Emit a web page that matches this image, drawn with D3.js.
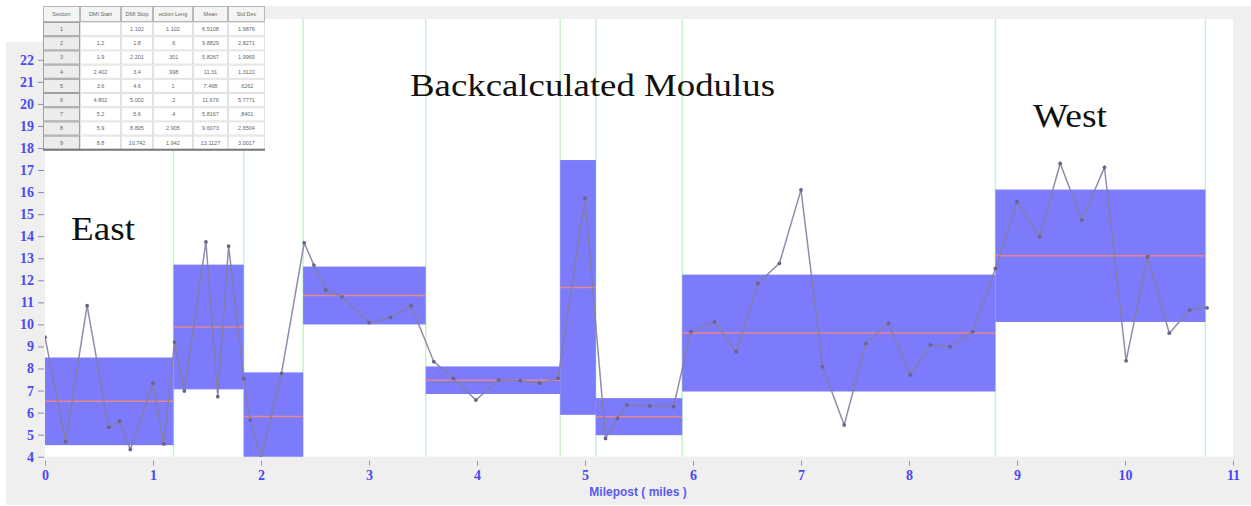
<!DOCTYPE html>
<meta charset="utf-8">
<head>
	<script src="https://cdn.jsdelivr.net/npm/d3@7"></script>
	<style>
		body { margin: 0; background: #fff; }
		.axis text { font-family: "Liberation Serif", "Times New Roman", serif; font-weight: bold; fill: #4a4aee; }
		.note { font-family: "Liberation Serif", "Times New Roman", serif; fill: #111; }
		.tbl text { font-family: "Liberation Sans", Arial, sans-serif; font-size: 5.5px; fill: #666; text-anchor: middle; }
	</style>
</head>
<body>
	<div id="chart"></div>
</body>
<script>
	// sections (milepost bounds, mean and std dev from the table)
	var secStart = [0, 1.19, 1.84, 2.39, 3.525, 4.77, 5.1, 5.9, 8.8];
	var secStop  = [1.19, 1.84, 2.39, 3.525, 4.77, 5.1, 5.9, 8.8, 10.745];
	var secMean  = [6.5108, 9.8829, 5.8267, 11.31, 7.468, 11.676, 5.8167, 9.6073, 13.1127];
	var secStd   = [1.9876, 2.8271, 1.9969, 1.3122, 0.6262, 5.7771, 0.8401, 2.6504, 3.0017];

	// backcalculated modulus along the road
	var pointMiles = [0, 0.19, 0.39, 0.59, 0.69, 0.79, 1.0, 1.1, 1.2, 1.29, 1.49, 1.6, 1.7, 1.84, 1.9, 2.0,
		2.19, 2.4, 2.49, 2.6, 2.75, 3.0, 3.2, 3.39, 3.6, 3.78, 3.99, 4.2, 4.4, 4.58, 4.75, 5.0, 5.19, 5.3,
		5.39, 5.6, 5.82, 5.98, 6.2, 6.4, 6.6, 6.8, 7.0, 7.2, 7.4, 7.6, 7.81, 8.01, 8.2, 8.38, 8.59, 8.8,
		9.0, 9.21, 9.4, 9.6, 9.81, 10.01, 10.21, 10.41, 10.6, 10.76];
	var pointValues = [9.42, 4.68, 10.85, 5.33, 5.62, 4.33, 7.33, 4.58, 9.2, 6.98, 13.74, 6.72, 13.55, 7.54, 5.66, 3.93,
		7.78, 13.7, 12.69, 11.56, 11.25, 10.08, 10.32, 10.85, 8.31, 7.55, 6.57, 7.48, 7.45, 7.33, 7.55, 15.72, 4.83, 5.74,
		6.34, 6.3, 6.27, 9.67, 10.12, 8.76, 11.86, 12.77, 16.1, 8.08, 5.44, 9.14, 10.05, 7.71, 9.07, 8.99, 9.67, 12.54,
		15.57, 13.98, 17.3, 14.73, 17.12, 8.35, 13.07, 9.6, 10.65, 10.75];

	var xTicks = [0, 1, 2, 3, 4, 5, 6, 7, 8, 9, 10, 11];
	var yTicks = [4, 5, 6, 7, 8, 9, 10, 11, 12, 13, 14, 15, 16, 17, 18, 19, 20, 21, 22];

	// summary table pasted over the top-left corner
	var tableHeader = ["Section", "DMI Start", "DMI Stop", "ection Leng", "Mean", "Std Dev"];
	var tableRows = [
		["1", "", "1.102", "1.102", "6.5108", "1.9876"],
		["2", "1.2", "1.8", ".6", "9.8829", "2.8271"],
		["3", "1.9", "2.201", ".301", "5.8267", "1.9969"],
		["4", "2.402", "3.4", ".998", "11.31", "1.3122"],
		["5", "3.6", "4.6", "1", "7.468", ".6262"],
		["6", "4.802", "5.002", ".2", "11.676", "5.7771"],
		["7", "5.2", "5.6", ".4", "5.8167", ".8401"],
		["8", "5.9", "8.805", "2.905", "9.6073", "2.6504"],
		["9", "8.8", "10.742", "1.942", "13.1127", "3.0017"]
	];

	var W = 1251, H = 506;
	var plot = {left: 45, right: 1233, top: 19, bottom: 456.7};

	var svg = d3.select("#chart").append("svg")
		.attr("width", W)
		.attr("height", H);

	var x = d3.scaleLinear().domain([0, 11]).range([plot.left, plot.right]);
	var y = d3.scaleLinear().domain([4, 23.85]).range([plot.bottom, plot.top]);

	// grey frame + white plot area
	svg.append("rect").attr("x", 6).attr("y", 6).attr("width", W - 6).attr("height", H - 7).style("fill", "#efefef");
	svg.append("rect")
		.attr("x", plot.left).attr("y", plot.top)
		.attr("width", plot.right - plot.left).attr("height", plot.bottom - plot.top)
		.style("fill", "#fff");

	svg.append("clipPath").attr("id", "clip")
		.append("rect")
		.attr("x", plot.left).attr("y", plot.top)
		.attr("width", plot.right - plot.left).attr("height", plot.bottom - plot.top);

	var g = svg.append("g").attr("clip-path", "url(#clip)");

	// section boundaries
	g.selectAll(".bound")
		.data(secStop)
		.enter().append("line")
		.attr("x1", function(d) { return x(d); })
		.attr("x2", function(d) { return x(d); })
		.attr("y1", plot.top)
		.attr("y2", plot.bottom)
		.style("stroke", "#c6f2c6")
		.style("stroke-width", 1.5);

	// mean +/- std dev boxes
	g.selectAll(".box")
		.data(secMean)
		.enter().append("rect")
		.attr("x", function(d, i) { return x(secStart[i]); })
		.attr("width", function(d, i) { return x(secStop[i]) - x(secStart[i]); })
		.attr("y", function(d, i) { return y(d + secStd[i]); })
		.attr("height", function(d, i) { return y(d - secStd[i]) - y(d + secStd[i]); })
		.style("fill", "#7b7bfc");

	g.selectAll(".mean")
		.data(secMean)
		.enter().append("line")
		.attr("x1", function(d, i) { return x(secStart[i]); })
		.attr("x2", function(d, i) { return x(secStop[i]); })
		.attr("y1", function(d) { return y(d); })
		.attr("y2", function(d) { return y(d); })
		.style("stroke", "#e8868c")
		.style("stroke-width", 1.5);

	var line = d3.line()
		.x(function(d) { return x(d); })
		.y(function(d, i) { return y(pointValues[i]); });

	g.append("path")
		.datum(pointMiles)
		.attr("d", line)
		.style("fill", "none")
		.style("stroke", "#857ea0")
		.style("stroke-opacity", 0.9)
		.style("stroke-width", 1.5);

	g.selectAll(".pt")
		.data(pointMiles)
		.enter().append("circle")
		.attr("cx", function(d) { return x(d); })
		.attr("cy", function(d, i) { return y(pointValues[i]); })
		.attr("r", 1.9)
		.style("fill", "#6a6488");

	// axes
	var yAxis = d3.axisLeft(y).tickValues(yTicks).tickSize(6).tickPadding(4).tickFormat(d3.format("d"));
	var yg = svg.append("g").attr("class", "axis")
		.attr("transform", "translate(" + (plot.left - 1) + ",0)")
		.call(yAxis);
	yg.select(".domain").remove();
	yg.selectAll("line").style("stroke", "#8a8ab0");
	yg.selectAll("text").style("font-size", "14px");

	var xAxis = d3.axisBottom(x).tickValues(xTicks).tickSize(0).tickPadding(13);
	var xg = svg.append("g").attr("class", "axis")
		.attr("transform", "translate(0," + plot.bottom + ")")
		.call(xAxis);
	xg.select(".domain").remove();
	xg.selectAll(".tick line").attr("y1", 4).attr("y2", 9).style("stroke", "#999");
	xg.selectAll("text").style("font-size", "14px");

	svg.append("text")
		.attr("x", 638).attr("y", 496)
		.style("font-family", "'Liberation Sans', Arial, sans-serif")
		.style("font-weight", "bold")
		.style("font-size", "12px")
		.style("fill", "#5a5af0")
		.style("text-anchor", "middle")
		.text("Milepost ( miles )");

	// annotations
	svg.append("text").attr("class", "note").attr("x", 410).attr("y", 96)
		.attr("textLength", 365).attr("lengthAdjust", "spacingAndGlyphs")
		.style("font-size", "31px").text("Backcalculated Modulus");
	svg.append("text").attr("class", "note").attr("x", 71).attr("y", 240)
		.attr("textLength", 64).attr("lengthAdjust", "spacingAndGlyphs")
		.style("font-size", "33px").text("East");
	svg.append("text").attr("class", "note").attr("x", 1033).attr("y", 127)
		.attr("textLength", 74).attr("lengthAdjust", "spacingAndGlyphs")
		.style("font-size", "33px").text("West");

	// table
	var colX = [43, 80, 121, 153, 193, 228, 265];
	var headH = 16, rowH = 14.2, top0 = 6;
	var tbl = svg.append("g").attr("class", "tbl");
	tbl.append("rect").attr("x", 0).attr("y", 0).attr("width", 43).attr("height", 42).style("fill", "#fff");
	tbl.append("rect").attr("x", 43).attr("y", 6).attr("width", 222).attr("height", headH + rowH * tableRows.length).style("fill", "#fff");

	var head = tbl.selectAll(".hd").data(tableHeader).enter().append("g");
	head.append("rect")
		.attr("x", function(d, i) { return colX[i] + 0.5; })
		.attr("y", top0 + 0.5)
		.attr("width", function(d, i) { return colX[i + 1] - colX[i] - 1; })
		.attr("height", headH - 1)
		.style("fill", "#f4f4f4").style("stroke", "#b8b8b8");
	head.append("text")
		.attr("x", function(d, i) { return (colX[i] + colX[i + 1]) / 2; })
		.attr("y", top0 + headH / 2 + 2)
		.text(function(d) { return d; });

	var rows = tbl.selectAll(".row").data(tableRows).enter().append("g")
		.attr("transform", function(d, i) { return "translate(0," + (top0 + headH + i * rowH) + ")"; });
	rows.selectAll("rect").data(function(d) { return d; }).enter().append("rect")
		.attr("x", function(d, i) { return colX[i] + 0.5; })
		.attr("y", 0.5)
		.attr("width", function(d, i) { return colX[i + 1] - colX[i] - 1; })
		.attr("height", rowH - 1)
		.style("fill", function(d, i) { return i == 0 ? "#ececec" : "#fff"; })
		.style("stroke", function(d, i) { return i == 0 ? "#a0a0a0" : "#e2e2e2"; });
	rows.selectAll("text").data(function(d) { return d; }).enter().append("text")
		.attr("x", function(d, i) { return (colX[i] + colX[i + 1]) / 2; })
		.attr("y", rowH / 2 + 2)
		.text(function(d) { return d; });

	tbl.append("line")
		.attr("x1", 43).attr("x2", 265)
		.attr("y1", top0 + headH + rowH * tableRows.length)
		.attr("y2", top0 + headH + rowH * tableRows.length)
		.style("stroke", "#777").style("stroke-width", 2);
</script>
